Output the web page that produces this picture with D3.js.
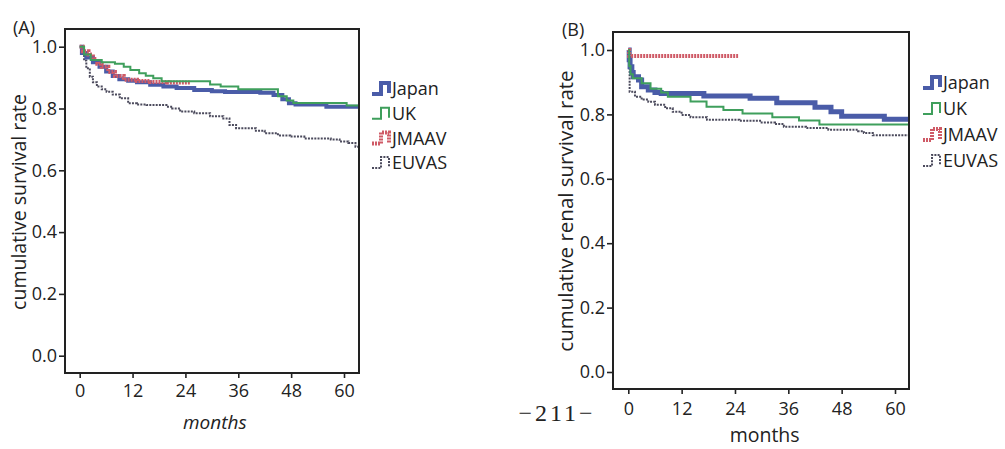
<!DOCTYPE html>
<html>
<head>
<meta charset="utf-8">
<script src="https://cdn.jsdelivr.net/npm/d3@7"></script>
<style>
  body { margin: 0; background: #fff; }
  svg { display: block; font-family: 'Open Sans', sans-serif; }
</style>
</head>
<body>
<div id="chart"></div>
<script>
// ---- data ----
const seriesNames = ['Japan', 'UK', 'JMAAV', 'EUVAS']
const monthTicks = [0, 12, 24, 36, 48, 60]
const rateTicks = [0, 0.2, 0.4, 0.6, 0.8, 1.0]

// (A) overall survival
const japanMonthsA = [0, 0.5, 1.5, 3, 4.5, 6, 7.5, 9, 11, 13, 16, 19, 22, 26, 30, 33, 41, 44, 46, 47.5, 49, 56, 64]
const japanRateA = [1, 0.98, 0.965, 0.95, 0.935, 0.92, 0.905, 0.895, 0.89, 0.885, 0.877, 0.871, 0.866, 0.86, 0.856, 0.853, 0.851, 0.844, 0.83, 0.817, 0.813, 0.806, 0.806]
const ukMonthsA = [0, 1, 2.5, 5, 8, 10, 11.5, 13.5, 15, 16.7, 18.6, 29.6, 32, 36, 45, 47, 48.5, 60.6, 64]
const ukRateA = [1, 0.975, 0.957, 0.95, 0.945, 0.935, 0.925, 0.914, 0.906, 0.898, 0.888, 0.878, 0.871, 0.862, 0.84, 0.826, 0.818, 0.81, 0.81]
const jmaavMonthsA = [0, 0.7, 2, 3, 4, 5, 6.5, 8, 10, 13, 16, 20, 25]
const jmaavRateA = [1, 0.985, 0.975, 0.96, 0.945, 0.935, 0.918, 0.905, 0.893, 0.889, 0.886, 0.884, 0.884]
const euvasMonthsA = [0, 0.5, 1, 1.5, 2.3, 3, 3.9, 5, 6.1, 7.5, 9.1, 11, 13, 15.2, 19.7, 21, 22.8, 26, 29.6, 32.6, 34, 35.5, 40, 42, 45, 47.8, 51, 57, 59, 61, 62.6, 64]
const euvasRateA = [1, 0.98, 0.955, 0.93, 0.903, 0.885, 0.871, 0.862, 0.854, 0.845, 0.833, 0.817, 0.813, 0.811, 0.806, 0.8, 0.79, 0.785, 0.775, 0.768, 0.747, 0.736, 0.728, 0.72, 0.713, 0.709, 0.703, 0.7, 0.693, 0.688, 0.676, 0.666]

// (B) renal survival
const japanMonthsB = [0, 0.2, 0.4, 0.8, 1.1, 2.3, 3, 4.5, 6, 7.4, 17, 27.4, 33.4, 42, 45.6, 48, 57.6, 64]
const japanRateB = [1, 0.97, 0.948, 0.93, 0.917, 0.907, 0.886, 0.876, 0.868, 0.865, 0.857, 0.85, 0.836, 0.822, 0.808, 0.794, 0.785, 0.785]
const ukMonthsB = [0, 0.2, 0.5, 1, 3, 5, 7.4, 8.9, 14, 17.6, 21.4, 25.7, 32.4, 38.4, 43, 64]
const ukRateB = [1, 0.95, 0.925, 0.912, 0.897, 0.88, 0.868, 0.855, 0.84, 0.824, 0.814, 0.803, 0.791, 0.781, 0.769, 0.769]
const jmaavMonthsB = [0, 0.2, 24.7]
const jmaavRateB = [1, 0.981, 0.981]
const euvasMonthsB = [0, 0.3, 1.5, 3, 4.5, 6, 8.3, 10, 12, 14, 17.7, 25, 30, 33, 35, 40, 45, 51.7, 53, 55, 64]
const euvasRateB = [1, 0.87, 0.855, 0.846, 0.839, 0.83, 0.819, 0.808, 0.798, 0.791, 0.783, 0.78, 0.775, 0.77, 0.762, 0.758, 0.752, 0.748, 0.742, 0.735, 0.735]

const zip = (ts, vs) => ts.map((t, i) => ({ t, v: vs[i] }))

const styles = {
  Japan: { color: '#4a5ca8', width: 4, dash: null },
  UK: { color: '#3f9f5c', width: 2, dash: null },
  JMAAV: { color: '#cf5a66', width: 4, dash: '2,1' },
  EUVAS: { color: '#4b4a5c', width: 2, dash: '2,1.2' }
}
const ink = '#222'

const svg = d3.select('#chart').append('svg').attr('width', 1005).attr('height', 449)

const panels = [
  {
    id: 'A', label: '(A)', labelX: 13, labelY: 34,
    frame: { left: 65, right: 359, top: 29, bottom: 373 },
    x0: 79.7, x60: 344, y0: 355.7, y1: 46.7,
    tickFont: 18, tickPad: 6,
    yTitle: 'cumulative survival rate', yTitleX: 19, yTitleY: 202, yTitleFont: 19.5,
    xTitleY: 429, xTitleFont: 19, xTitleItalic: true,
    legendX: 372, legendY: 89, legendStep: 24.7, legendFont: 18,
    japanW: 4,
    series: [zip(japanMonthsA, japanRateA), zip(ukMonthsA, ukRateA), zip(jmaavMonthsA, jmaavRateA), zip(euvasMonthsA, euvasRateA)]
  },
  {
    id: 'B', label: '(B)', labelX: 562, labelY: 36,
    frame: { left: 613, right: 909, top: 32, bottom: 389 },
    x0: 628.3, x60: 895, y0: 372, y1: 50,
    tickFont: 18, tickPad: 8,
    yTitle: 'cumulative renal survival rate', yTitleX: 566, yTitleY: 211, yTitleFont: 20.5,
    xTitleY: 442, xTitleFont: 19.5, xTitleItalic: false,
    legendX: 923, legendY: 83, legendStep: 26, legendFont: 18,
    japanW: 5,
    series: [zip(japanMonthsB, japanRateB), zip(ukMonthsB, ukRateB), zip(jmaavMonthsB, jmaavRateB), zip(euvasMonthsB, euvasRateB)]
  }
]

panels.forEach((p) => {
  const f = p.frame
  const x = d3.scaleLinear().domain([0, 60]).range([p.x0, p.x60])
  const y = d3.scaleLinear().domain([0, 1]).range([p.y0, p.y1])

  const clipId = 'clip' + p.id
  svg.append('clipPath').attr('id', clipId)
    .append('rect')
    .attr('x', f.left).attr('y', f.top)
    .attr('width', f.right - f.left).attr('height', f.bottom - f.top)

  const line = d3.line().x((d) => x(d.t)).y((d) => y(d.v)).curve(d3.curveStepAfter)

  const curves = svg.append('g').attr('clip-path', `url(#${clipId})`)
  // back to front: EUVAS, Japan, JMAAV, UK
  const order = [3, 0, 2, 1]
  order.forEach((i) => {
    const name = seriesNames[i]
    const st = styles[name]
    curves.append('path')
      .datum(p.series[i])
      .attr('fill', 'none')
      .attr('stroke', st.color)
      .attr('stroke-width', name === 'Japan' ? p.japanW : st.width)
      .attr('stroke-dasharray', st.dash)
      .attr('d', line)
  })

  // frame
  svg.append('rect')
    .attr('x', f.left).attr('y', f.top)
    .attr('width', f.right - f.left).attr('height', f.bottom - f.top)
    .attr('fill', 'none').attr('stroke', ink).attr('stroke-width', 2)

  const yAxis = d3.axisLeft(y).tickValues(rateTicks).tickFormat(d3.format('.1f')).tickSize(6).tickPadding(2)
  const gy = svg.append('g').attr('transform', `translate(${f.left},0)`).call(yAxis)
  const xAxis = d3.axisBottom(x).tickValues(monthTicks).tickSize(5).tickPadding(p.tickPad)
  const gx = svg.append('g').attr('transform', `translate(0,${f.bottom})`).call(xAxis)
  ;[gx, gy].forEach((g) => {
    g.select('.domain').remove()
    g.selectAll('line').attr('stroke', ink).attr('stroke-width', 1.6)
    g.selectAll('text').attr('font-size', p.tickFont).attr('fill', ink)
      .attr('font-family', "'Open Sans', sans-serif")
  })

  // titles
  svg.append('text')
    .attr('transform', `translate(${p.yTitleX},${p.yTitleY}) rotate(-90)`)
    .attr('text-anchor', 'middle').attr('dy', '0.35em')
    .attr('font-size', p.yTitleFont).attr('fill', ink)
    .text(p.yTitle)

  svg.append('text')
    .attr('x', (x(0) + x(60)) / 2 + 3).attr('y', p.xTitleY)
    .attr('text-anchor', 'middle')
    .attr('font-size', p.xTitleFont).attr('fill', ink)
    .attr('font-style', p.xTitleItalic ? 'italic' : 'normal')
    .text('months')

  svg.append('text')
    .attr('x', p.labelX).attr('y', p.labelY)
    .attr('font-size', 18).attr('fill', ink)
    .text(p.label)

  // legend
  const lg = svg.append('g')
  seriesNames.forEach((name, i) => {
    const st = styles[name]
    const cy = p.legendY + i * p.legendStep
    const gy0 = cy + 5
    const gy1 = cy - 6
    lg.append('path')
      .attr('d', `M${p.legendX},${gy0}H${p.legendX + 9}V${gy1}H${p.legendX + 17}V${gy0 - 1}`)
      .attr('fill', 'none')
      .attr('stroke', st.color)
      .attr('stroke-width', name === 'Japan' ? 4 : st.width)
      .attr('stroke-dasharray', st.dash)
    lg.append('text')
      .attr('x', p.legendX + 20).attr('y', cy).attr('dy', '0.35em')
      .attr('font-size', p.legendFont).attr('fill', ink)
      .text(name)
  })
})

// page number printed between the panels
svg.append('text')
  .attr('x', 557).attr('y', 413).attr('dy', '0.35em')
  .attr('text-anchor', 'middle')
  .attr('font-family', "'Liberation Serif', serif")
  .attr('font-size', 24).attr('letter-spacing', 3).attr('fill', ink)
  .text('−211−')
</script>
</body>
</html>
